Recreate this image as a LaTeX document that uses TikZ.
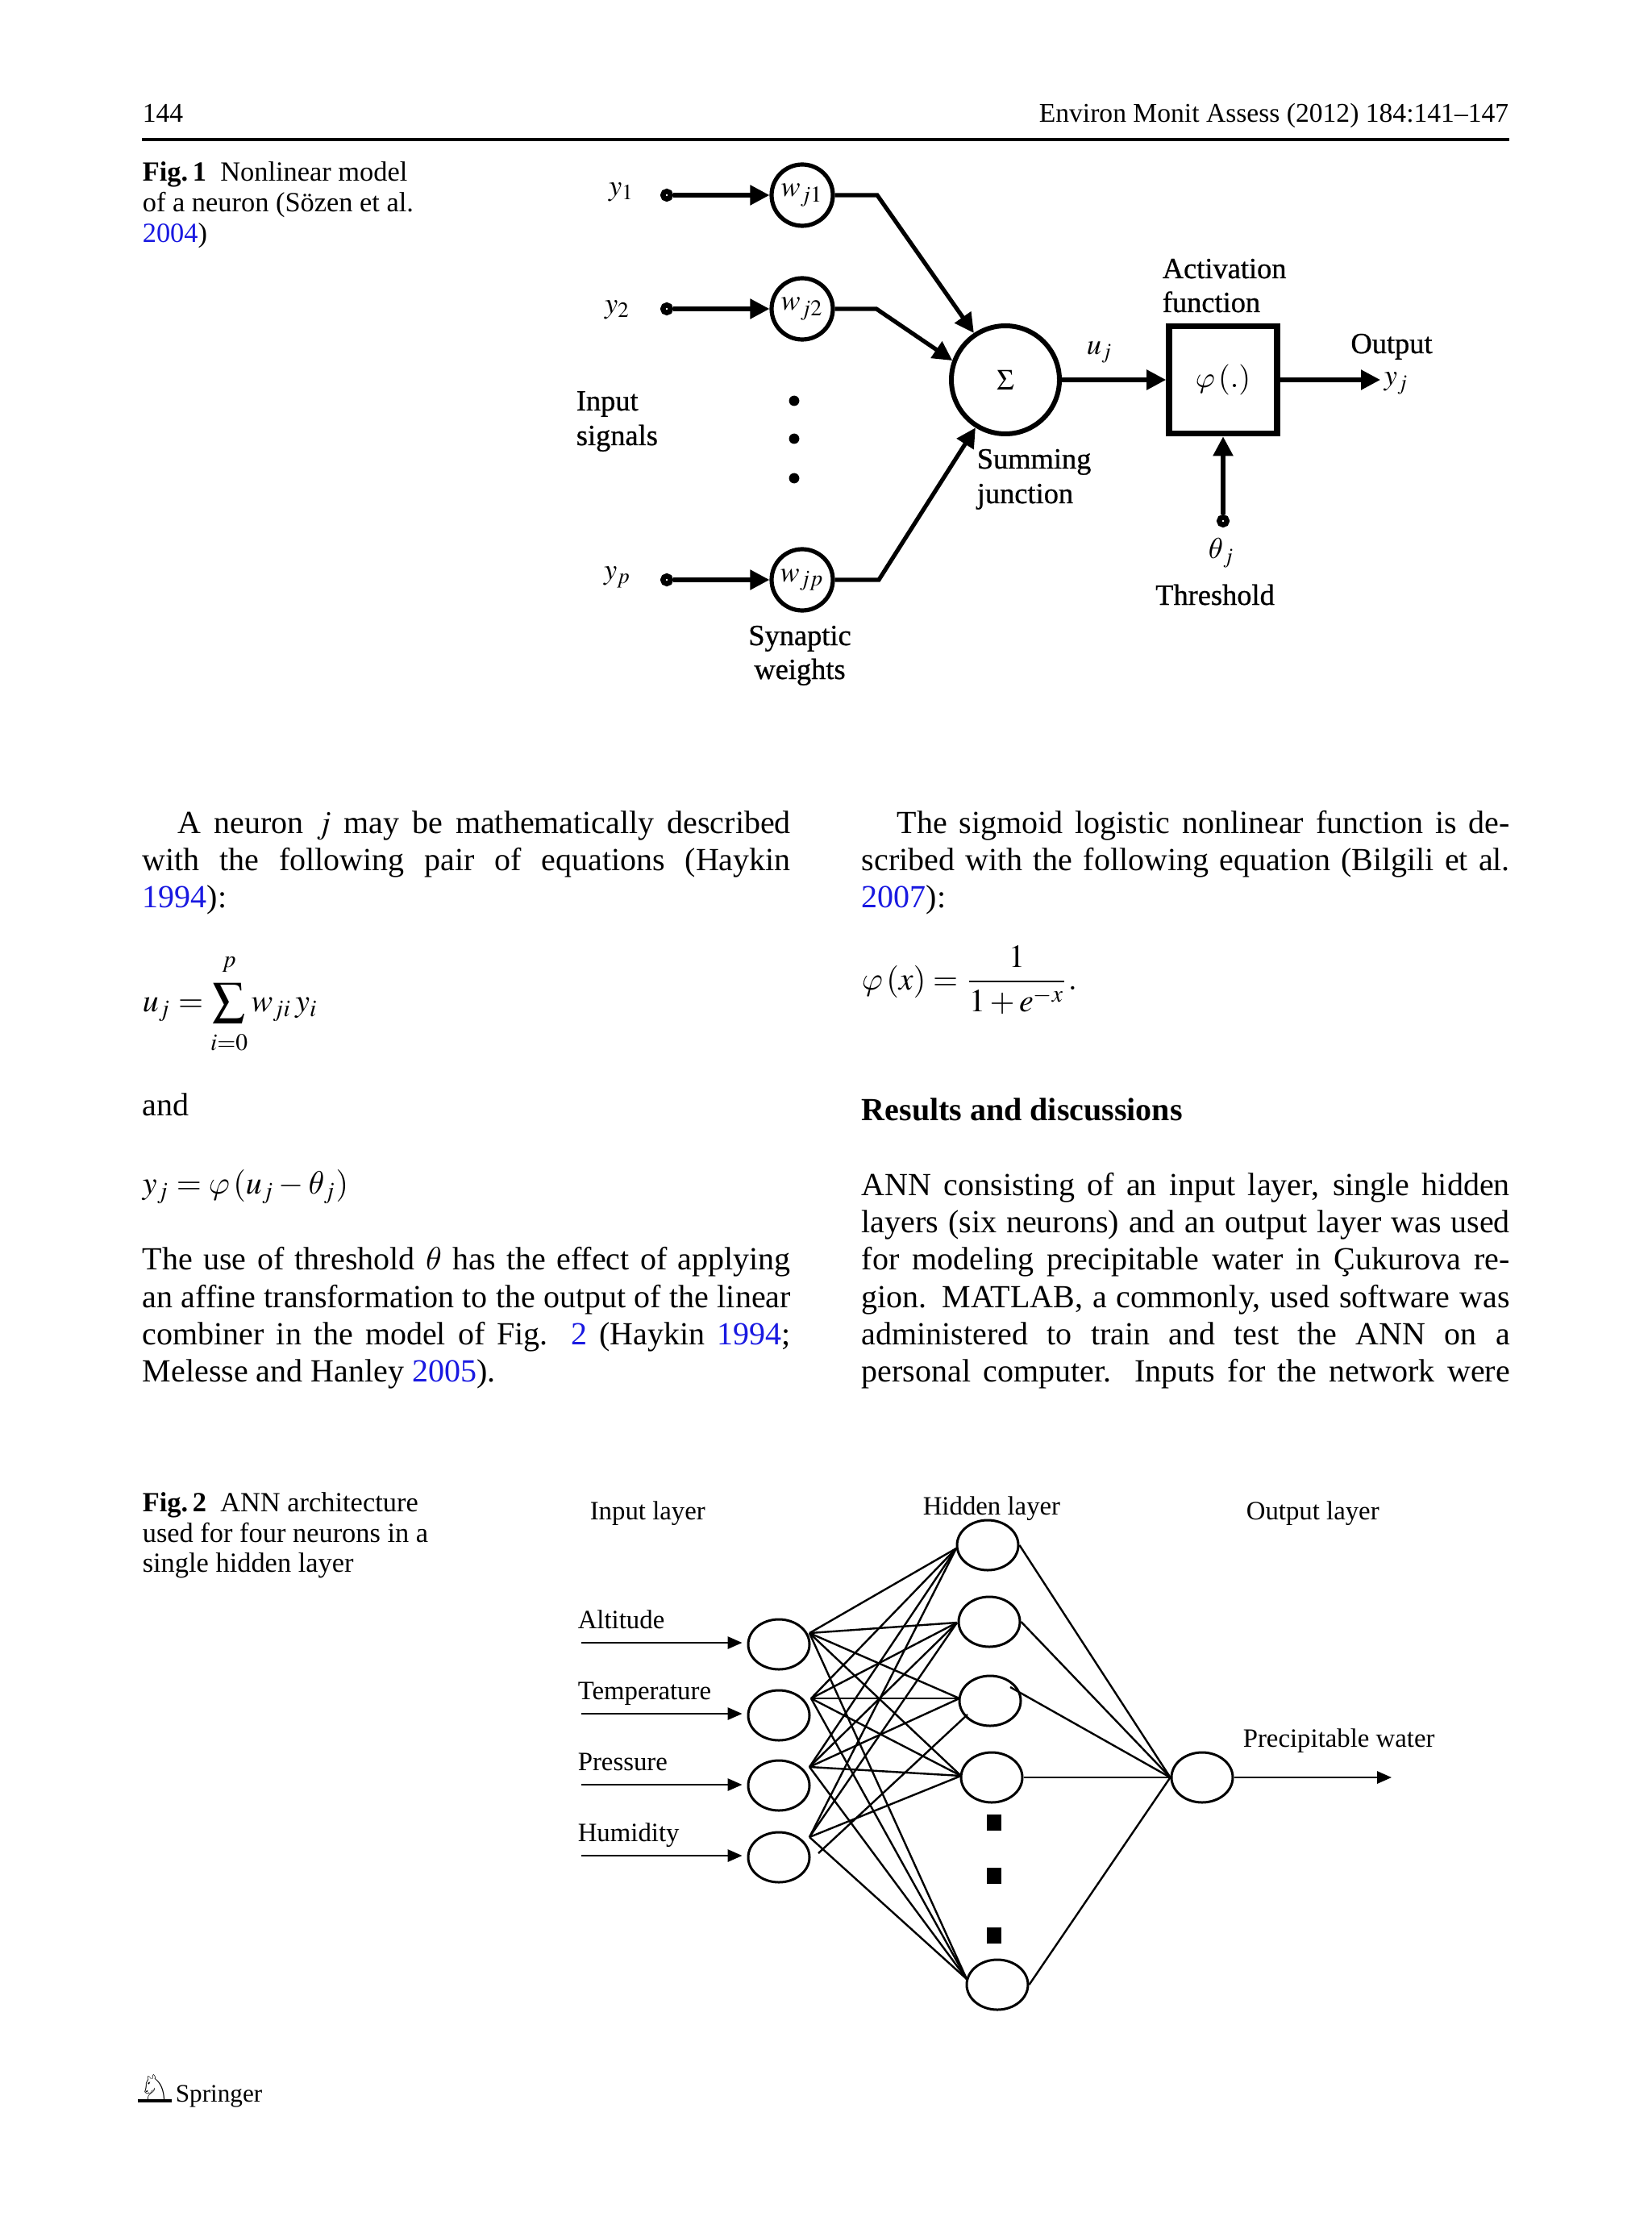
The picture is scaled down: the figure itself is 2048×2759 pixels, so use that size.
\documentclass[tikz,border=0pt]{standalone}
\usepackage{amsmath}
\usepackage{mathptmx}
\usepackage{fontspec}
\setmainfont{Liberation Serif}
\newfontfamily\dejavu{DejaVu Sans}
\newfontfamily\figfont[FakeBold=0.7]{Liberation Serif}
\DeclareSymbolFont{cmletters}{OML}{cmm}{m}{it}
\DeclareMathSymbol{\cmvarphi}{\mathord}{cmletters}{"27}
\DeclareMathSymbol{\cmtheta}{\mathord}{cmletters}{"12}
\usetikzlibrary{arrows.meta,shapes.geometric}
\definecolor{linkblue}{RGB}{25,25,225}
\newcommand\lk[1]{\textcolor{linkblue}{#1}}
\newcommand\bodyfont{\fontsize{10}{12}\selectfont}
\newcommand\fullline[1]{\makebox[201pt][s]{#1}}
\newcommand\indline[1]{\makebox[190pt][s]{#1}}
\begin{document}
\begin{tikzpicture}[x=0.25pt,y=-0.25pt,
  txt/.style={anchor=base west, inner sep=0pt, font=\bodyfont},
  capt/.style={anchor=base west, inner sep=0pt, font=\fontsize{8.6}{10}\selectfont},
  head/.style={inner sep=0pt, font=\fontsize{8.4}{10}\selectfont},
  f1lab/.style={inner sep=0pt, font=\figfont\fontsize{9.1}{11}\selectfont},
  f1arr/.style={line width=1.3pt, -{Triangle[length=6pt,width=6pt]}},
  f1line/.style={line width=1.3pt},
  wcirc/.style={circle, draw, line width=1.3pt, minimum size=19pt, inner sep=0pt, font=\fontsize{9}{10}\selectfont},
  sigcirc/.style={circle, draw, line width=1.5pt, minimum size=33.5pt, inner sep=0pt, font=\fontsize{9}{10}\selectfont},
  actbox/.style={rectangle, draw, line width=1.9pt, minimum width=33.5pt, minimum height=33.25pt, inner sep=0pt, font=\fontsize{9.5}{10}\selectfont},
  indot/.style={circle, draw, line width=1.6pt, fill=white, minimum size=2.4pt, inner sep=0pt},
  bigdot/.style={circle, fill, minimum size=3.2pt, inner sep=0pt},
  neuron/.style={ellipse, draw, line width=0.75pt, minimum width=19pt, minimum height=15.5pt, inner sep=0pt},
  f2line/.style={line width=0.6pt},
  f2arr/.style={line width=0.6pt, -{Triangle[length=4.5pt,width=3.8pt]}, shorten >=1.5pt},
  sq/.style={rectangle, fill, minimum width=4.6pt, minimum height=5pt, inner sep=0pt},
  f2lab/.style={anchor=base west, inner sep=0pt, font=\fontsize{8.2}{10}\selectfont}]

\path[fill=white,use as bounding box] (0,0) rectangle (2048,2759);

% ---------- running head ----------
\node[head,anchor=base west] (pgno) at (176,152) {144};
\node[head,anchor=base east] (jname) at (1872,152) {Environ Monit Assess (2012) 184:141--147};
\coordinate (ruleL) at (176,173);
\coordinate (ruleR) at (1872,173);
\draw[line width=1pt] (ruleL) -- (ruleR);

% ---------- Fig. 1 caption ----------
\node[capt] (c1a) at (176,225) {\textbf{Fig.\,1}\enspace Nonlinear model};
\node[capt] (c1b) at (176,263) {of a neuron (Sözen et al.};
\node[capt] (c1c) at (176,301) {\lk{2004})};

% ---------- Fig. 1 ----------
\node[indot] (d1) at (827,242) {};
\node[indot] (d2) at (827,383) {};
\node[indot] (dp) at (827,719) {};
\node[wcirc] (w1) at (995,242) {$w_{j1}$};
\node[wcirc] (w2) at (995,383) {$w_{j2}$};
\node[wcirc] (wp) at (995,719) {$w_{jp}$};
\node[sigcirc] (sig) at (1247,471) {$\Sigma$};
\node[actbox] (box) at (1517,471) {$\cmvarphi\,(.)$};
\node[indot] (thd) at (1517,646) {};
\coordinate (b1) at (1088,242);
\coordinate (b2) at (1087,383);
\coordinate (bp) at (1090,719);
\coordinate (yout) at (1712,471);

\draw[f1arr] (d1) -- (w1);
\draw[f1arr] (d2) -- (w2);
\draw[f1arr] (dp) -- (wp);
\draw[f1arr] (w1) -- (b1) -- (sig.124);
\draw[f1arr] (w2) -- (b2) -- (sig.160);
\draw[f1arr] (wp) -- (bp) -- (sig.238);
\draw[f1arr] (sig) -- (box);
\draw[f1arr] (box) -- (yout);
\draw[f1arr] (thd) -- (box.south);

\node[bigdot] (dA) at (985,497) {};
\node[bigdot] (dB) at (985,544) {};
\node[bigdot] (dC) at (985,593) {};

\node[f1lab] (ly1) at (771,238) {$y_1$};
\node[f1lab] (ly2) at (766,384) {$y_2$};
\node[f1lab] (lyp) at (766,716) {$y_p$};
\node[f1lab,anchor=base west] (lin1) at (714,509) {Input};
\node[f1lab,anchor=base west] (lin2) at (714,552) {signals};
\node[f1lab,anchor=base west] (lsum1) at (1211,581) {Summing};
\node[f1lab,anchor=base west] (lsum2) at (1211,624) {junction};
\node[f1lab,anchor=base] (lsyn1) at (992,800) {Synaptic};
\node[f1lab,anchor=base] (lsyn2) at (992,842) {weights};
\node[f1lab,anchor=base west] (lact1) at (1441,345) {Activation};
\node[f1lab,anchor=base west] (lact2) at (1441,387) {function};
\node[f1lab,anchor=base] (lout) at (1726,438) {Output};
\node[f1lab,anchor=base west] (lyj) at (1716,478) {$y_j$};
\node[f1lab] (luj) at (1364,437) {$u_j$};
\node[f1lab] (lth) at (1515,686) {$\boldsymbol{\cmtheta}_j$};
\node[f1lab,anchor=base] (lthr) at (1507,750) {Threshold};

% ---------- left column ----------
\node[txt] (L1) at (220,1033) {\indline{A neuron $j$ may be mathematically described}};
\node[txt] (L2) at (176,1079) {\fullline{with the following pair of equations (Haykin}};
\node[txt] (L3) at (176,1125) {\lk{1994}):};
\node[txt] (eq1) at (176,1254) {$u_j=\displaystyle\sum_{\raisebox{-2.5pt}{$\scriptstyle i=0$}}^{\raisebox{3pt}{$\scriptstyle p$}} w_{ji}\,y_i$};
\node[txt] (L4) at (176,1383) {and};
\node[txt] (eq2) at (176,1480) {$y_j=\cmvarphi\left(u_j-\cmtheta_j\right)$};
\node[txt] (L5) at (176,1574) {\fullline{The use of threshold $\cmtheta$ has the effect of applying}};
\node[txt] (L6) at (176,1621) {\fullline{an affine transformation to the output of the linear}};
\node[txt] (L7) at (176,1667) {\fullline{combiner in the model of Fig. \lk{2} (Haykin \lk{1994};}};
\node[txt] (L8) at (176,1713) {Melesse and Hanley \lk{2005}).};

% ---------- right column ----------
\node[txt] (R1) at (1112,1033) {\indline{The sigmoid logistic nonlinear function is de-}};
\node[txt] (R2) at (1068,1079) {\fullline{scribed with the following equation (Bilgili et al.}};
\node[txt] (R3) at (1068,1125) {\lk{2007}):};
\node[txt] (eq3) at (1068,1227) {$\cmvarphi\left(x\right)=\dfrac{1}{1+e^{-x}}.$};
\node[txt] (R4) at (1068,1389) {\textbf{Results and discussions}};
\node[txt] (R5) at (1068,1482) {\fullline{ANN consisting of an input layer, single hidden}};
\node[txt] (R6) at (1068,1528) {\fullline{layers (six neurons) and an output layer was used}};
\node[txt] (R7) at (1068,1574) {\fullline{for modeling precipitable water in Çukurova re-}};
\node[txt] (R8) at (1068,1621) {\fullline{gion. MATLAB, a commonly, used software was}};
\node[txt] (R9) at (1068,1667) {\fullline{administered to train and test the ANN on a}};
\node[txt] (R10) at (1068,1713) {\fullline{personal computer. Inputs for the network were}};

% ---------- Fig. 2 caption ----------
\node[capt] (c2a) at (176,1874) {\textbf{Fig.\,2}\enspace ANN architecture};
\node[capt] (c2b) at (176,1912) {used for four neurons in a};
\node[capt] (c2c) at (176,1949) {single hidden layer};

% ---------- Fig. 2 ----------
\node[f2lab] (tIn) at (731,1884) {Input layer};
\node[f2lab] (tHid) at (1144,1878) {Hidden layer};
\node[f2lab] (tOut) at (1545,1884) {Output layer};
\node[f2lab] (tA) at (716,2019) {Altitude};
\node[f2lab] (tT) at (716,2107) {Temperature};
\node[f2lab] (tP) at (716,2195) {Pressure};
\node[f2lab] (tH) at (716,2283) {Humidity};
\node[f2lab] (tPW) at (1541,2166) {Precipitable water};

\node[neuron] (I1) at (966,2039) {};
\node[neuron] (I2) at (966,2127) {};
\node[neuron] (I3) at (966,2214) {};
\node[neuron] (I4) at (966,2303) {};
\node[neuron] (H1) at (1225,1916) {};
\node[neuron] (H2) at (1227,2011) {};
\node[neuron] (H3) at (1228,2109) {};
\node[neuron] (H4) at (1230,2204) {};
\node[neuron] (H5) at (1237,2461) {};
\node[neuron] (O) at (1491,2204) {};

\node[sq] (q1) at (1233,2260) {};
\node[sq] (q2) at (1233,2326) {};
\node[sq] (q3) at (1233,2400) {};

\coordinate (a1) at (721,2037);
\coordinate (a2) at (721,2125);
\coordinate (a3) at (721,2213);
\coordinate (a4) at (721,2301);
\draw[f2arr] (a1) -- (a1 -| I1.west);
\draw[f2arr] (a2) -- (a2 -| I2.west);
\draw[f2arr] (a3) -- (a3 -| I3.west);
\draw[f2arr] (a4) -- (a4 -| I4.west);

\coordinate (s1) at (1004,2025);
\coordinate (s2) at (1006,2106);
\coordinate (s3) at (1004,2191);
\coordinate (s4) at (1004,2278);
\coordinate (s4b) at (1015,2298);
\coordinate (e1) at (1186,1920);
\coordinate (e2) at (1187,2012);
\coordinate (e3) at (1190,2106);
\coordinate (e3b) at (1200,2126);
\coordinate (e4) at (1192,2202);
\coordinate (e5) at (1199,2454);
\foreach \a/\b in {s1/e1,s1/e2,s1/e3,s1/e4,s1/e5,
                   s2/e1,s2/e2,s2/e3,s2/e4,s2/e5,
                   s3/e1,s3/e2,s3/e3,s3/e4,s3/e5,
                   s4/e1,s4/e2,s4b/e3b,s4/e4,s4/e5}
  \draw[f2line] (\a) -- (\b);

\coordinate (h3o) at (1253,2092);
\draw[f2line] (H1.east) -- (O.west);
\draw[f2line] (H2.east) -- (O.west);
\draw[f2line] (h3o) -- (O.west);
\draw[f2line] (H4.east) -- (O.west);
\draw[f2line] (H5.east) -- (O.west);
\coordinate (pw) at (1732,2204);
\draw[f2arr] (O) -- (pw);

% ---------- footer ----------
\node[inner sep=0pt, anchor=base, font=\dejavu\fontsize{11}{12}\selectfont] (knight) at (192,2604) {♘};
\draw[line width=0.9pt] (knight.south west) -- (knight.south east);
\node[anchor=base west, inner sep=0pt, font=\fontsize{7.8}{9}\selectfont] (spr) at (217,2606) {Springer};
\end{tikzpicture}
\end{document}
